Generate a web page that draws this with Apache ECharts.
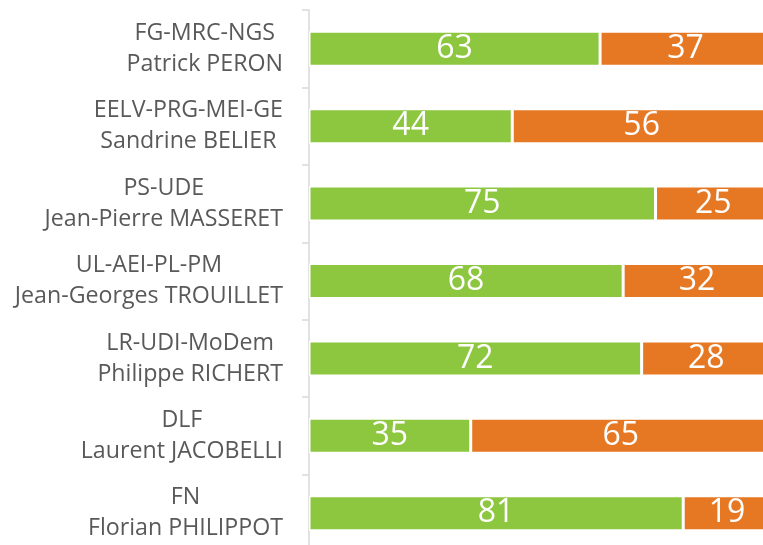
<!DOCTYPE html>
<html>
<head>
<meta charset="utf-8">
<script src="https://cdn.jsdelivr.net/npm/echarts@6/dist/echarts.min.js"></script>
<style>
  html, body { margin: 0; padding: 0; background: #fff; }
  #chart { width: 763px; height: 545px; }
</style>
</head>
<body>
<div id="chart"></div>
<script>
// listes (haut -> bas)
var categories = [
  'FG-MRC-NGS\nPatrick PERON',
  'EELV-PRG-MEI-GE\nSandrine BELIER',
  'PS-UDE\nJean-Pierre MASSERET',
  'UL-AEI-PL-PM\nJean-Georges TROUILLET',
  'LR-UDI-MoDem\nPhilippe RICHERT',
  'DLF\nLaurent JACOBELLI',
  'FN\nFlorian PHILIPPOT'
];
var greenValues = [63, 44, 75, 68, 72, 35, 81];
var orangeValues = [37, 56, 25, 32, 28, 65, 19];

var chart = echarts.init(document.getElementById('chart'));

var barLabel = {
  show: true,
  position: 'inside',
  color: '#fff',
  fontSize: 32,
  fontFamily: 'Open Sans'
};

var option = {
  animation: false,
  grid: {
    left: 309,
    right: -8,
    top: 10,
    bottom: -7,
    outerBoundsMode: 'none'
  },
  xAxis: {
    type: 'value',
    min: 0,
    max: 100,
    show: false
  },
  yAxis: {
    type: 'category',
    data: categories,
    inverse: true,
    axisLine: { lineStyle: { color: '#d9d9d9', width: 1.5 } },
    axisTick: { show: true, length: 7, lineStyle: { color: '#d9d9d9', width: 1.5 } },
    axisLabel: {
      color: '#595959',
      fontSize: 23.2,
      lineHeight: 31,
      fontFamily: 'Open Sans',
      margin: 26,
      align: 'right',
      // lignes centrées entre elles, bloc aligné à droite
      formatter: function (v) {
        return v.split('\n').map(function (s) { return '{c|' + s + '}'; }).join('\n');
      },
      rich: {
        c: {
          align: 'center',
          color: '#595959',
          fontSize: 23.2,
          lineHeight: 31,
          fontFamily: 'Open Sans'
        }
      }
    }
  },
  series: [
    {
      name: 'vert',
      type: 'bar',
      stack: 'total',
      data: greenValues,
      barWidth: 35,
      itemStyle: { color: '#8dc63f', borderColor: '#fff', borderWidth: 1.5 },
      label: barLabel
    },
    {
      name: 'orange',
      type: 'bar',
      stack: 'total',
      data: orangeValues,
      barWidth: 35,
      itemStyle: { color: '#e67824', borderColor: '#fff', borderWidth: 1.5 },
      label: barLabel
    }
  ]
};

chart.setOption(option);
</script>
</body>
</html>
